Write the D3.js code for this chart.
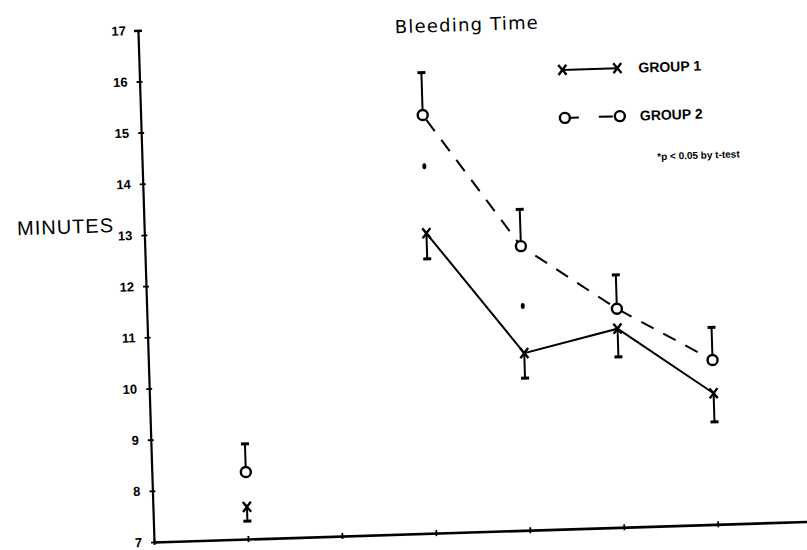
<!DOCTYPE html>
<html>
<head>
<meta charset="utf-8">
<script src="https://cdn.jsdelivr.net/npm/d3@7"></script>
<style>
	body { margin: 0; background: #fff; }
	svg { display: block; }
</style>
</head>
<body>
<script>
// Data (minutes)
var xTicks = [0, 1, 2, 3, 4, 5, 6, 7];
var yTicks = [7, 8, 9, 10, 11, 12, 13, 14, 15, 16, 17];
var timePoints = [1, 3, 4, 5, 6];
var group1Mean = [7.63, 12.86, 10.46, 10.88, 9.56];
var group1Err = [0.28, 0.5, 0.49, 0.55, 0.56];
var group2Mean = [8.31, 15.17, 12.55, 11.27, 10.21];
var group2Err = [0.55, 0.83, 0.72, 0.66, 0.64];
var starTimes = [3, 4];
var starValues = [14.17, 11.38];
var legendLabels = ["GROUP 1", "GROUP 2"];

var svg = d3.select("body").append("svg")
	.attr("width", 807)
	.attr("height", 550);

// the scan is slightly tilted, so the whole figure is drawn in a rotated frame
var origin = {x: 154, y: 542},
	angle = -1.8,
	width = 658,
	height = 512;

var g = svg.append("g")
	.attr("transform", "translate(" + origin.x + "," + origin.y + ") rotate(" + angle + ")");

var x = d3.scaleLinear().domain([0, 7]).range([0, width]);
var y = d3.scaleLinear().domain([7, 17]).range([0, -height]);

function pts(means){
	return timePoints.map(function(t, i){ return {t: t, v: means[i], i: i}; });
}

// axes
var xAxis = g.append("g")
	.call(d3.axisBottom(x).tickValues(xTicks).tickSizeInner(3).tickSizeOuter(0).tickFormat(""));
xAxis.select(".domain").attr("stroke-width", 2.6);
xAxis.selectAll(".tick line").attr("y1", -3).attr("stroke-width", 1.8);

var yAxis = g.append("g")
	.call(d3.axisLeft(y).tickValues(yTicks).tickSizeInner(3).tickSizeOuter(0).tickPadding(9));
yAxis.select(".domain").attr("stroke-width", 2.2);
yAxis.selectAll(".tick line").attr("x1", 3).attr("stroke-width", 1.8);
yAxis.selectAll(".tick text")
	.attr("font-family", "'Liberation Sans Narrow', 'Liberation Sans', sans-serif")
	.attr("font-weight", "bold")
	.attr("font-size", 13)
	.attr("fill", "#000");
yAxis.select(".tick:last-of-type line").attr("x1", 4).attr("x2", -4).attr("stroke-width", 2.5);

// lines (baseline point is not joined)
var line = d3.line()
	.x(function(d){ return x(d.t); })
	.y(function(d){ return y(d.v); });

g.append("path")
	.datum(pts(group1Mean).slice(1))
	.attr("fill", "none")
	.attr("stroke", "#000")
	.attr("stroke-width", 2)
	.attr("d", line);

g.append("path")
	.datum(pts(group2Mean).slice(1))
	.attr("fill", "none")
	.attr("stroke", "#000")
	.attr("stroke-width", 2)
	.attr("stroke-dasharray", "14,11")
	.attr("stroke-dashoffset", -6)
	.attr("d", line);

// error bars: group 1 down, group 2 up
function errBars(means, errs, dir){
	var eb = g.append("g").attr("stroke", "#000");
	eb.selectAll("line.bar")
		.data(pts(means))
		.enter().append("line")
			.attr("class", "bar")
			.attr("x1", function(d){ return x(d.t); })
			.attr("x2", function(d){ return x(d.t); })
			.attr("y1", function(d){ return y(d.v); })
			.attr("y2", function(d){ return y(d.v + dir * errs[d.i]); })
			.attr("stroke-width", 2);
	eb.selectAll("line.cap")
		.data(pts(means))
		.enter().append("line")
			.attr("class", "cap")
			.attr("x1", function(d){ return x(d.t) - 4; })
			.attr("x2", function(d){ return x(d.t) + 4; })
			.attr("y1", function(d){ return y(d.v + dir * errs[d.i]); })
			.attr("y2", function(d){ return y(d.v + dir * errs[d.i]); })
			.attr("stroke-width", 3);
}
errBars(group1Mean, group1Err, -1);
errBars(group2Mean, group2Err, 1);

// markers
var crossPath = "M-4,-5L4,5M-4,5L4,-5";
g.selectAll(".g1mark")
	.data(pts(group1Mean))
	.enter().append("path")
		.attr("class", "g1mark")
		.attr("transform", function(d){ return "translate(" + x(d.t) + "," + y(d.v) + ")"; })
		.attr("d", crossPath)
		.attr("stroke", "#000")
		.attr("stroke-width", 2.4);

g.selectAll(".g2mark")
	.data(pts(group2Mean))
	.enter().append("circle")
		.attr("class", "g2mark")
		.attr("cx", function(d){ return x(d.t); })
		.attr("cy", function(d){ return y(d.v); })
		.attr("r", 5)
		.attr("fill", "#fff")
		.attr("stroke", "#000")
		.attr("stroke-width", 2.4);

// significance marks
g.selectAll(".star")
	.data(starTimes)
	.enter().append("ellipse")
		.attr("class", "star")
		.attr("cx", function(d){ return x(d); })
		.attr("cy", function(d, i){ return y(starValues[i]); })
		.attr("rx", 2)
		.attr("ry", 3)
		.attr("fill", "#000");

// titles
g.append("text")
	.attr("x", 329)
	.attr("y", -501)
	.attr("text-anchor", "middle")
	.attr("font-family", "'DejaVu Sans', sans-serif")
	.attr("font-size", 18)
	.attr("letter-spacing", 1.2)
	.text("Bleeding Time");

g.append("text")
	.attr("x", -30)
	.attr("y", -311)
	.attr("text-anchor", "end")
	.attr("font-family", "'Liberation Sans', sans-serif")
	.attr("font-size", 20)
	.attr("letter-spacing", 1)
	.text("MINUTES");

// legend
var legend = g.append("g").attr("transform", "translate(423,-459)");
legend.append("line")
	.attr("x1", 0).attr("x2", 55).attr("y1", 0).attr("y2", 0)
	.attr("stroke", "#000").attr("stroke-width", 2);
legend.selectAll(".lx")
	.data([0, 55])
	.enter().append("path")
		.attr("transform", function(d){ return "translate(" + d + ",0)"; })
		.attr("d", crossPath)
		.attr("stroke", "#000")
		.attr("stroke-width", 2.4);

var leg2 = legend.append("g").attr("transform", "translate(1,48)");
leg2.append("line")
	.attr("x1", 0).attr("x2", 55).attr("y1", 0).attr("y2", 0)
	.attr("stroke", "#000").attr("stroke-width", 2)
	.attr("stroke-dasharray", "14,20");
leg2.selectAll("circle")
	.data([0, 55])
	.enter().append("circle")
		.attr("cx", function(d){ return d; })
		.attr("r", 5)
		.attr("fill", "#fff")
		.attr("stroke", "#000")
		.attr("stroke-width", 2.4);

legend.selectAll(".ltext")
	.data(legendLabels)
	.enter().append("text")
		.attr("class", "ltext")
		.attr("x", 76)
		.attr("y", function(d, i){ return 5 + i * 48; })
		.attr("font-family", "'Liberation Sans Narrow', 'Liberation Sans', sans-serif")
		.attr("font-weight", "bold")
		.attr("font-size", 14)
		.text(function(d){ return d; });

legend.append("text")
	.attr("x", 92)
	.attr("y", 93)
	.attr("font-family", "'Liberation Sans Narrow', 'Liberation Sans', sans-serif")
	.attr("font-weight", "bold")
	.attr("font-size", 10)
	.text("*p < 0.05 by t-test");
</script>
</body>
</html>
